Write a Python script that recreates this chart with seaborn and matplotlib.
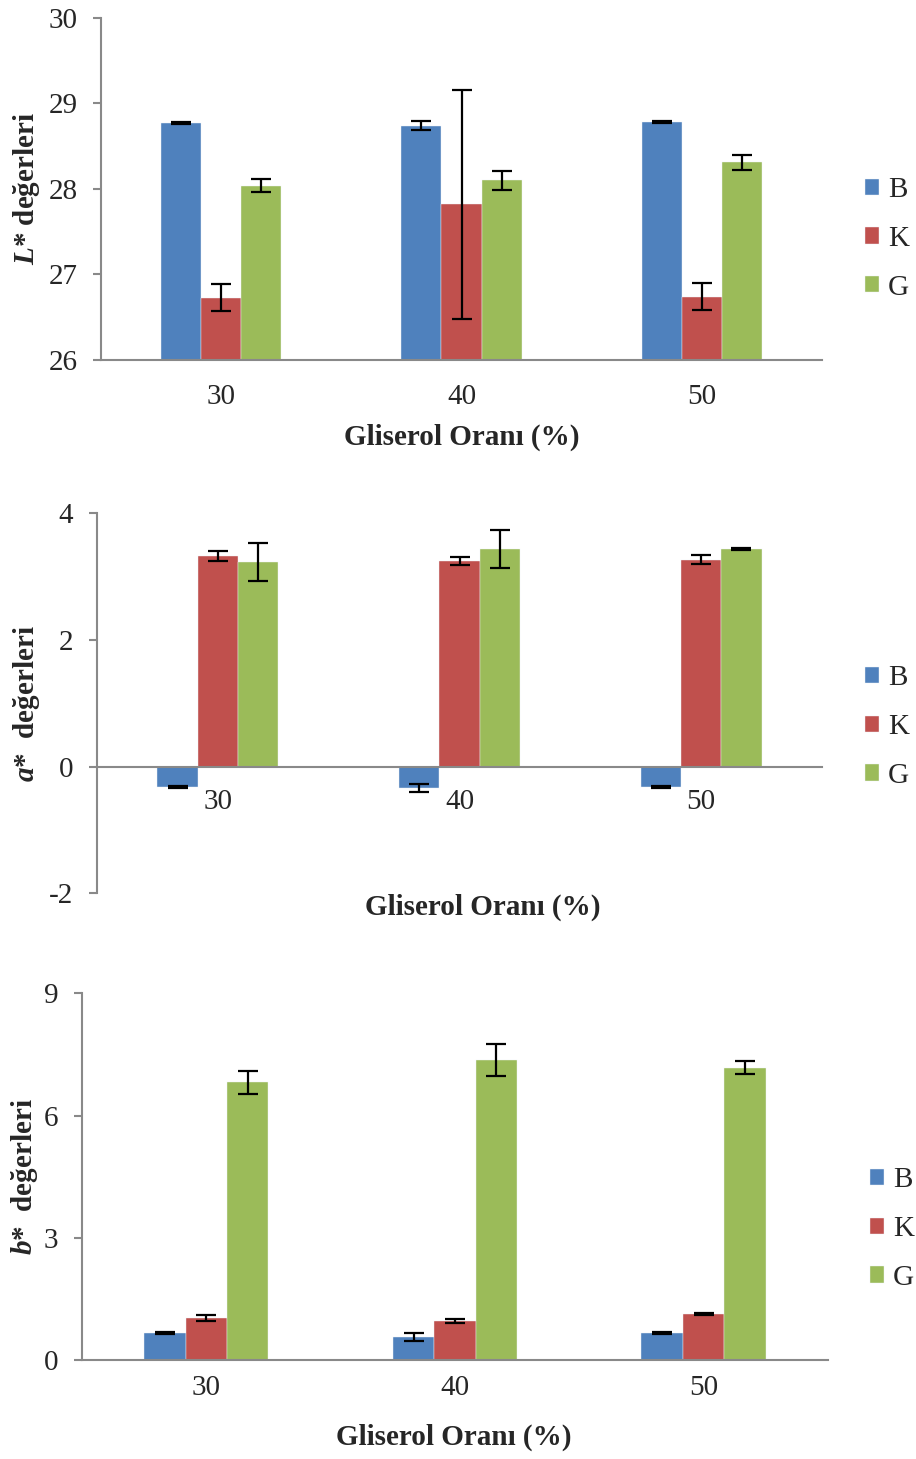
import numpy as np
import pandas as pd
import seaborn as sns
import matplotlib.pyplot as plt

sns.set_style("white")
plt.rcParams["font.family"] = ["Liberation Serif", "DejaVu Serif"]
plt.rcParams["mathtext.fontset"] = "custom"
plt.rcParams["mathtext.it"] = "Liberation Serif:italic:bold"
plt.rcParams["mathtext.rm"] = "Liberation Serif:bold"
plt.rcParams["mathtext.bf"] = "Liberation Serif:bold"

# Glycerol ratios and sample groups
oranlar = ["30", "40", "50"]
gruplar = ["B", "K", "G"]
renkler = ["#4F81BD", "#C0504D", "#9BBB59"]

# L* values (mean and standard deviation)
L_B = [28.77, 28.74, 28.78]
L_K = [26.73, 27.82, 26.74]
L_G = [28.04, 28.10, 28.31]
L_B_sd = [0.01, 0.05, 0.01]
L_K_sd = [0.16, 1.34, 0.155]
L_G_sd = [0.08, 0.115, 0.09]

# a* values
a_B = [-0.32, -0.34, -0.32]
a_K = [3.33, 3.25, 3.27]
a_G = [3.23, 3.44, 3.44]
a_B_sd = [0.01, 0.06, 0.01]
a_K_sd = [0.08, 0.065, 0.066]
a_G_sd = [0.295, 0.30, 0.01]

# b* values
b_B = [0.655, 0.557, 0.655]
b_K = [1.03, 0.965, 1.12]
b_G = [6.82, 7.36, 7.17]
b_B_sd = [0.02, 0.094, 0.02]
b_K_sd = [0.065, 0.05, 0.02]
b_G_sd = [0.28, 0.39, 0.16]

SPINE = "#898989"
TICK_FS = 21
LABEL_FS = 21
LEGEND_FS = 21


def panel(ax, means, sds, ylim, yticks, ylabel, xpad, ylab_x, xlab_xy, leg_xy,
          zero_axis=False):
    df = pd.DataFrame({
        "oran": np.tile(oranlar, len(gruplar)),
        "grup": np.repeat(gruplar, len(oranlar)),
        "deger": np.concatenate(means),
    })
    sns.barplot(data=df, x="oran", y="deger", hue="grup", hue_order=gruplar,
                order=oranlar, palette=renkler, width=0.5, gap=0,
                saturation=1, errorbar=None, edgecolor="#eef2f6",
                linewidth=0.3, ax=ax)
    # standard deviation whiskers on each bar
    for cont, m, s in zip(ax.containers, means, sds):
        xs = [b.get_x() + b.get_width() / 2 for b in cont]
        ax.errorbar(xs, m, yerr=s, fmt="none", ecolor="black",
                    elinewidth=1.6, capsize=7, capthick=1.6, zorder=5)
    ax.set_xlim(-0.5, 2.5)
    ax.set_ylim(*ylim)
    ax.set_yticks(yticks)
    ax.set_yticklabels([f"{t:g}" for t in yticks])
    for side in ("top", "right"):
        ax.spines[side].set_visible(False)
    for side in ("left", "bottom"):
        ax.spines[side].set_color(SPINE)
        ax.spines[side].set_linewidth(1.5)
    if zero_axis:
        ax.spines["bottom"].set_position(("data", 0))
    ax.tick_params(axis="y", direction="out", length=6, width=1.5,
                   color=SPINE, pad=11, labelsize=TICK_FS, left=True)
    ax.tick_params(axis="x", length=0, pad=xpad, labelsize=TICK_FS)
    ax.set_ylabel(ylabel, fontsize=LABEL_FS, fontweight="bold")
    ax.yaxis.set_label_coords(ylab_x, 0.5)
    ax.yaxis.label.set_va("center")
    ax.set_xlabel("Gliserol Oranı (%)", fontsize=LABEL_FS, fontweight="bold")
    ax.xaxis.set_label_coords(*xlab_xy)
    ax.xaxis.label.set_va("center")
    handles, labels = ax.get_legend_handles_labels()
    ax.legend(handles, labels, loc="center left", bbox_to_anchor=leg_xy,
              frameon=False, fontsize=LEGEND_FS, handlelength=0.48,
              handleheight=0.48, handletextpad=0.3, labelspacing=0.78,
              borderpad=0, borderaxespad=0)


fig = plt.figure(figsize=(9.16, 14.59), dpi=100)
ax1 = fig.add_axes([0.1103, 0.7533, 0.7871, 0.2344])
ax2 = fig.add_axes([0.1059, 0.3877, 0.7915, 0.2604])
ax3 = fig.add_axes([0.0895, 0.0679, 0.8144, 0.2513])

panel(ax1, [L_B, L_K, L_G], [L_B_sd, L_K_sd, L_G_sd], (26, 30),
      [26, 27, 28, 29, 30], r"$\mathit{L}$* değerleri", 17, -0.104,
      (0.5007, -0.225), (1.0597, 0.354))
panel(ax2, [a_B, a_K, a_G], [a_B_sd, a_K_sd, a_G_sd], (-2, 4),
      [-2, 0, 2, 4], r"$\mathit{a}$*  değerleri", 16, -0.0966,
      (0.532, -0.036), (1.0593, 0.4376), zero_axis=True)
panel(ax3, [b_B, b_K, b_G], [b_B_sd, b_K_sd, b_G_sd], (0, 9),
      [0, 3, 6, 9], r"$\mathit{b}$*  değerleri", 11, -0.0777,
      (0.4987, -0.21), (1.0563, 0.357))

fig.savefig("out.png", dpi=100, facecolor="white")
